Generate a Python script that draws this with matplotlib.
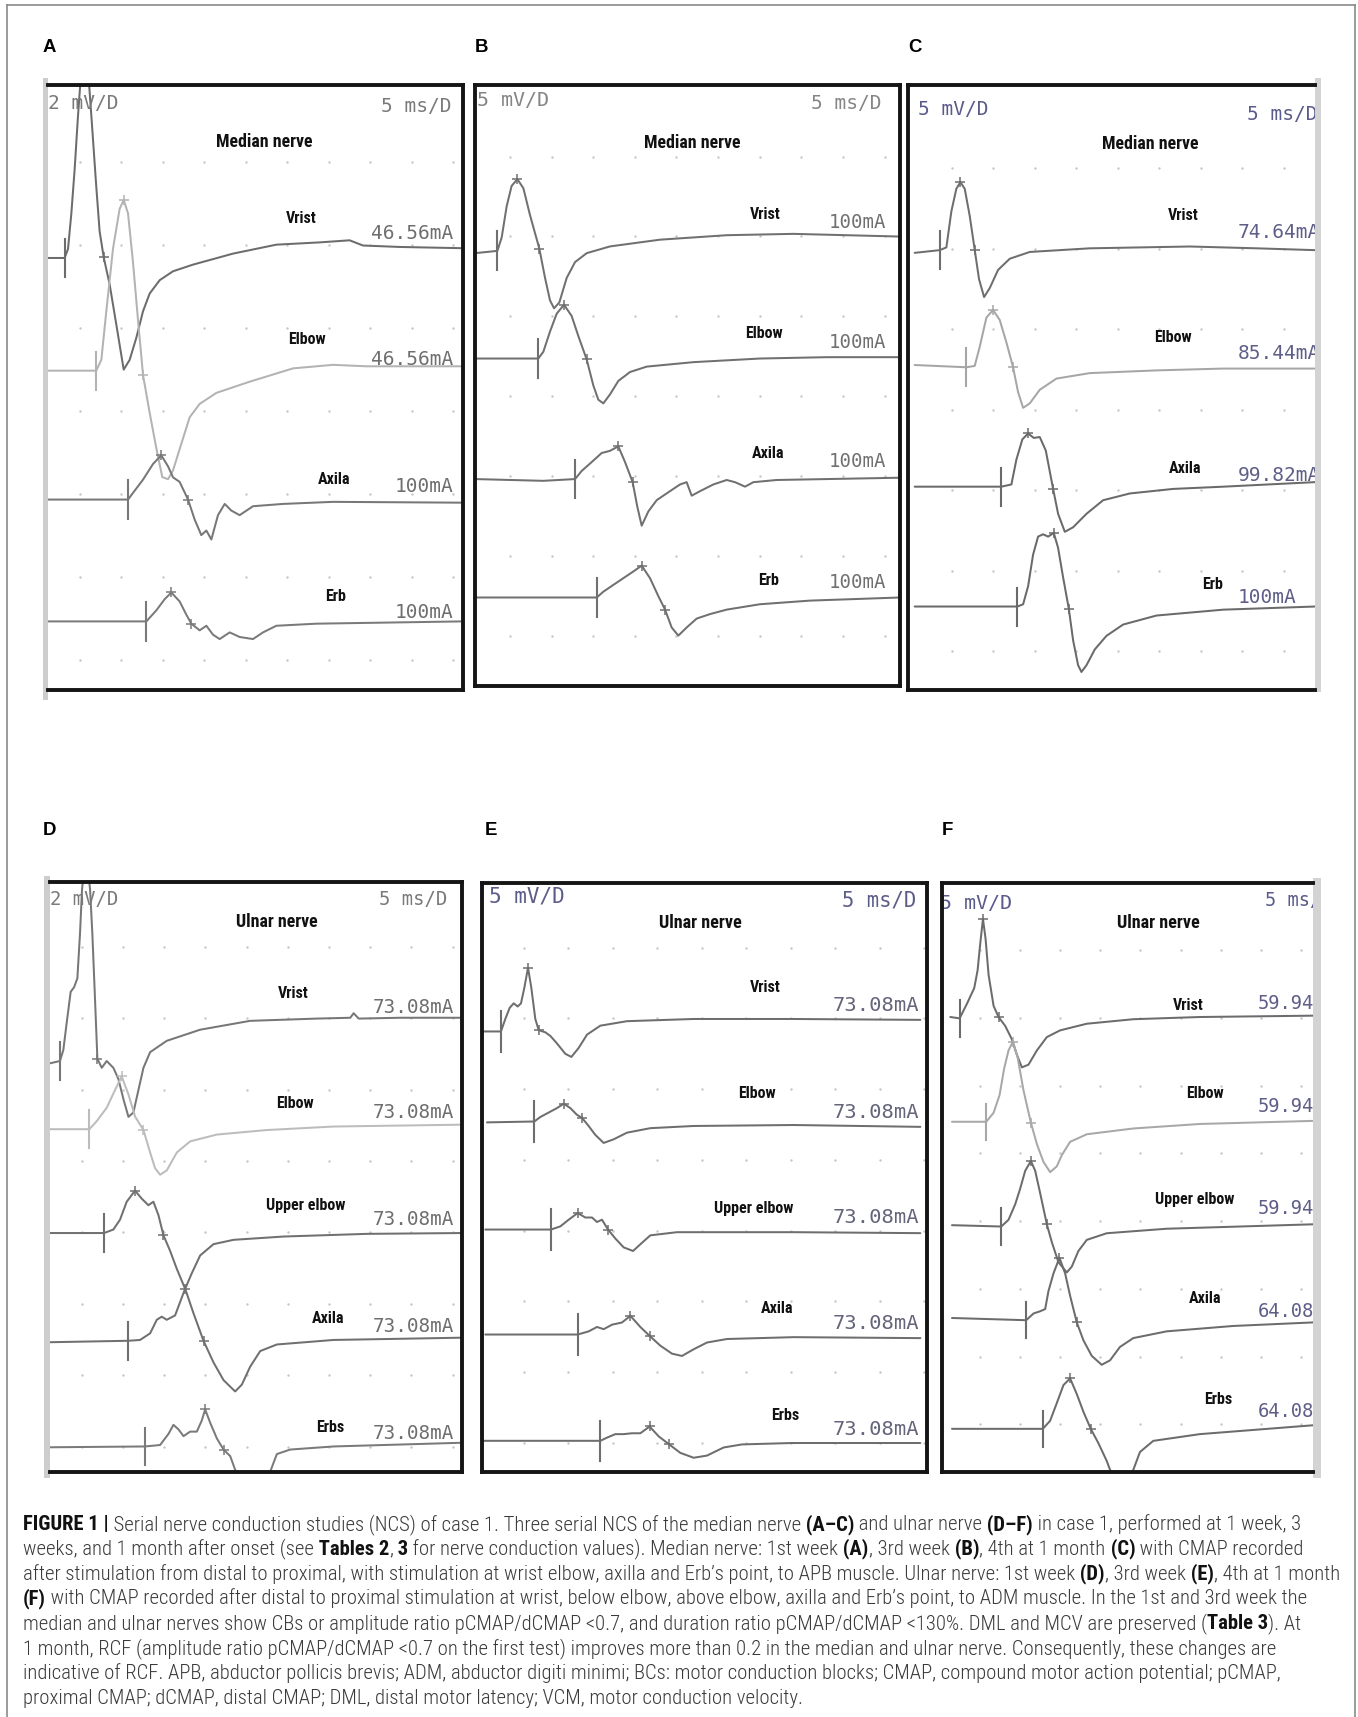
import numpy as np
import matplotlib
matplotlib.use("Agg")
import matplotlib.pyplot as plt
from matplotlib import font_manager
from matplotlib.patches import Rectangle
from matplotlib.lines import Line2D

# ------------------------------------------------------------------ data
# time in ms from the left edge of each screen, amplitude in mV relative to each trace baseline
a_sens = 2  # mV/D
a_sites = ["Vrist", "Elbow", "Axila", "Erb"]
a_currents = ["46.56mA", "46.56mA", "100mA", "100mA"]
a_stim_ms = [2.0, 5.82, 9.64, 11.85]
a_marks = [[4.42, 6.71], [9.12, 11.45], [13.65, 16.87], [14.86, 17.27]]
a_vrist_ms = [0, 2.0, 2.41, 2.81, 3.21, 3.61, 3.90, 4.42, 4.94, 5.30, 5.82, 6.22, 6.71, 7.43, 8.23, 9.12, 9.84,
              10.64, 11.45, 12.25, 13.45, 15.06, 17.47, 22.29, 27.51, 32.73, 36.34, 37.95, 42.37, 50.0]
a_vrist_mv = [0, 0, 0.43, 2.13, 4.26, 6.82, 8.42, 10.23, 8.42, 6.40, 3.41, 1.28, 0.04, -1.28, -3.20, -5.37, -4.90,
              -3.84, -2.56, -1.71, -1.07, -0.64, -0.32, 0.21, 0.64, 0.75, 0.85, 0.60, 0.53, 0.47]
a_elbow_ms = [0, 5.82, 6.43, 7.03, 7.83, 8.63, 9.12, 9.64, 10.24, 10.84, 11.45, 12.25, 13.05, 13.77, 14.46, 15.06,
              16.06, 17.07, 18.27, 20.28, 24.30, 29.52, 34.34, 38.35, 50.0]
a_elbow_mv = [0, 0, 0.53, 2.88, 5.86, 7.78, 8.21, 7.57, 5.22, 2.45, -0.21, -2.03, -3.73, -5.12, -5.22, -4.80,
              -3.52, -2.24, -1.60, -1.07, -0.53, 0.11, 0.28, 0.21, 0.21]
a_axila_ms = [0, 9.64, 10.24, 11.45, 12.65, 13.65, 14.46, 15.06, 15.86, 16.87, 17.67, 18.47, 19.08, 19.68, 20.48,
              21.29, 22.09, 23.09, 24.70, 28.31, 34.34, 50.0]
a_axila_mv = [0, 0, 0.32, 0.96, 1.71, 2.13, 1.60, 1.07, 0.85, 0, -0.96, -1.71, -1.49, -1.92, -0.75,
              -0.21, -0.53, -0.75, -0.32, -0.21, -0.11, -0.15]
a_erb_ms = [0, 11.85, 13.05, 14.06, 14.86, 15.86, 16.67, 17.27, 18.27, 19.08, 19.88, 20.68, 21.89, 23.09, 24.70,
            25.90, 27.51, 32.33, 50.0]
a_erb_mv = [0, 0, 0.53, 1.07, 1.39, 0.96, 0.32, -0.11, -0.43, -0.21, -0.64, -0.85, -0.53, -0.75, -0.85,
            -0.53, -0.21, -0.11, 0]

b_sens = 5
b_sites = ["Vrist", "Elbow", "Axila", "Erb"]
b_currents = ["100mA", "100mA", "100mA", "100mA"]
b_stim_ms = [2.63, 7.45, 11.77, 14.32]
b_marks = [[4.98, 7.57], [10.47, 13.14], [16.86, 18.55], [19.61, 22.36]]
b_vrist_ms = [0, 2.63, 3.14, 3.73, 4.31, 4.98, 5.69, 6.47, 7.57, 8.24, 8.82, 9.30, 9.92, 10.79, 11.77, 13.14,
              15.88, 21.77, 29.61, 37.45, 50.0]
b_vrist_mv = [0, 0.27, 1.86, 5.59, 7.98, 8.78, 7.71, 4.52, 0.53, -2.93, -5.59, -6.54, -5.85, -2.93, -1.06, 0,
              0.80, 1.60, 2.13, 2.29, 1.97]
b_elbow_ms = [0, 7.45, 8.04, 8.82, 9.61, 10.47, 11.37, 12.16, 13.14, 13.92, 14.51, 15.10, 15.88, 16.86, 18.24,
              20.20, 25.69, 33.53, 41.38, 50.0]
b_elbow_mv = [0, 0, 0.80, 3.19, 5.32, 6.38, 5.05, 2.66, -0.11, -3.19, -4.89, -5.32, -4.26, -2.66, -1.60,
              -0.96, -0.43, 0, 0.16, 0.16]
b_axila_ms = [0, 8.04, 11.77, 12.55, 13.73, 14.90, 15.88, 16.86, 17.65, 18.55, 19.10, 19.61, 20.40, 21.38, 22.55,
              24.12, 24.90, 25.49, 26.47, 28.04, 29.61, 30.59, 31.77, 32.75, 35.49, 50.0]
b_axila_mv = [0, -0.21, 0, 0.96, 2.02, 3.09, 3.35, 3.88, 2.02, -0.37, -3.30, -5.53, -3.83, -2.50, -1.70,
              -0.64, -0.37, -1.97, -1.44, -0.64, -0.11, -0.37, -0.90, -0.37, -0.11, 0.16]
b_erb_ms = [0, 14.32, 15.10, 16.27, 17.45, 18.63, 19.61, 20.59, 21.57, 22.36, 23.14, 23.92, 24.90, 26.08, 27.65,
            29.61, 33.53, 39.41, 50.0]
b_erb_mv = [0, 0, 0.69, 1.49, 2.29, 3.09, 3.78, 2.29, 0.16, -1.44, -3.56, -4.52, -3.56, -2.50, -1.97,
            -1.44, -0.80, -0.37, 0]

c_sens = 5
c_sites = ["Vrist", "Elbow", "Axila", "Erb"]
c_currents = ["74.64mA", "85.44mA", "99.82mA", "100mA"]
c_stim_ms = [3.82, 7.03, 11.24, 13.17]
c_marks = [[6.31, 8.03], [10.24, 12.65], [14.46, 17.47], [17.55, 19.36]]
c_vrist_ms = [0.8, 3.82, 4.62, 5.22, 5.82, 6.31, 6.83, 7.43, 8.03, 8.55, 9.16, 9.84, 10.84, 12.25, 14.66, 21.89,
              33.94, 41.97, 49.0]
c_vrist_mv = [-0.11, 0.22, 0.55, 4.91, 7.64, 8.46, 7.64, 4.37, 0.27, -3.28, -5.46, -4.37, -2.18, -0.82, 0, 0.44,
              0.66, 0.44, 0.22]
c_elbow_ms = [0.8, 7.03, 8.03, 8.63, 9.44, 10.24, 11.04, 11.85, 12.65, 13.25, 13.86, 14.66, 15.86, 17.87, 21.89,
              29.92, 37.95, 49.0]
c_elbow_mv = [0.27, 0, 0.16, 2.46, 6.01, 6.93, 5.73, 3.00, 0, -3.00, -4.91, -4.37, -2.73, -1.37, -0.71,
              -0.38, -0.16, -0.16]
c_axila_ms = [0.8, 11.24, 12.45, 13.05, 13.77, 14.46, 15.14, 15.86, 16.59, 17.47, 18.07, 18.88, 19.88, 21.49,
              23.49, 26.71, 31.93, 37.95, 49.0]
c_axila_mv = [0, 0, 0.27, 3.28, 5.73, 6.44, 5.90, 6.01, 4.37, -0.27, -3.28, -5.46, -4.91, -3.28,
              -1.64, -0.82, -0.27, 0, 0.55]
c_erb_ms = [0.8, 13.17, 13.86, 14.46, 15.06, 15.66, 16.26, 16.87, 17.55, 18.07, 18.67, 19.36, 19.88, 20.48, 20.88,
            21.49, 22.49, 23.89, 25.90, 29.92, 37.95, 49.0]
c_erb_mv = [0, 0, 0.27, 2.46, 6.28, 8.46, 8.74, 8.46, 8.90, 7.10, 3.55, -0.27, -4.10, -7.10, -7.92,
            -7.10, -5.19, -3.55, -2.18, -1.09, -0.38, 0]

d_sens = 2
d_sites = ["Vrist", "Elbow", "Upper elbow", "Axila", "Erbs"]
d_currents = ["73.08mA"] * 5
d_stim_ms = [1.21, 4.78, 6.56, 9.52, 11.54]
d_marks = [[4.37, 5.75], [8.70, 11.34], [10.32, 13.77], [16.40, 18.63], [18.83, 21.06]]
d_vrist_ms = [0, 1.21, 1.62, 2.02, 2.51, 2.92, 3.32, 3.64, 3.89, 4.37, 4.86, 5.14, 5.47, 5.75, 6.28, 6.88, 7.69,
              8.30, 8.91, 9.52, 10.12, 10.73, 11.34, 12.15, 14.17, 18.22, 24.29, 32.39, 36.44, 36.85, 37.46,
              42.51, 50.0]
d_vrist_mv = [0, 0.11, 0.65, 1.95, 3.47, 3.69, 4.12, 6.29, 8.46, 10.2, 8.46, 6.29, 3.04, 0.22, -0.22, 0.11, -0.22,
              -0.76, -1.74, -2.60, -2.39, -1.30, -0.22, 0.54, 1.09, 1.63, 2.06, 2.17, 2.21, 2.43, 2.17,
              2.21, 2.21]
d_elbow_ms = [0, 4.78, 5.67, 6.88, 7.90, 8.70, 9.52, 10.33, 11.34, 12.15, 12.75, 13.36, 14.17, 15.39, 17.01,
              20.25, 26.32, 34.42, 50.0]
d_elbow_mv = [0, 0, 0.39, 1.04, 1.91, 2.56, 1.69, 0.61, -0.04, -1.13, -1.89, -2.21, -2.00, -1.13, -0.59,
              -0.26, -0.04, 0.13, 0.22]
d_upper_ms = [0, 6.56, 7.69, 8.50, 9.31, 10.32, 11.13, 11.94, 12.55, 13.16, 13.77, 14.58, 15.39, 16.40, 17.21,
              18.22, 19.84, 22.27, 28.34, 38.47, 50.0]
d_upper_mv = [0, 0, 0.17, 0.65, 1.52, 2.06, 1.67, 1.35, 1.52, 0.87, -0.11, -0.87, -1.74, -2.71, -1.95,
              -1.09, -0.54, -0.33, -0.17, -0.04, 0]
d_axila_ms = [0, 9.52, 10.93, 12.15, 12.96, 13.56, 14.17, 15.18, 15.79, 16.40, 17.41, 18.63, 19.84, 21.06, 22.47,
              23.28, 24.29, 25.51, 27.53, 34.42, 50.0]
d_axila_mv = [0, 0.07, 0.11, 0.43, 1.09, 1.24, 1.09, 1.30, 1.95, 2.60, 1.41, 0.07, -0.98, -1.84, -2.39,
              -2.06, -1.19, -0.43, -0.11, 0.11, 0.22]
d_erbs_ms = [0, 11.54, 13.36, 14.38, 14.98, 15.59, 16.20, 17.01, 17.82, 18.42, 18.83, 19.44, 20.25, 21.06, 21.87,
             22.47, 23.48, 25.91, 26.72, 27.53, 29.15, 34.42, 50.0]
d_erbs_mv = [0, 0.04, 0.11, 0.65, 1.09, 0.87, 0.54, 0.76, 0.76, 1.30, 1.84, 1.19, 0.43, -0.11, -0.43,
             -1.09, -2.39, -2.39, -1.19, -0.33, -0.11, 0.04, 0.22]

e_sens = 5
e_sites = ["Vrist", "Elbow", "Upper elbow", "Axila", "Erbs"]
e_currents = ["73.08mA"] * 5
e_stim_ms = [2.13, 5.88, 7.75, 10.75, 13.30]
e_marks = [[5.17, 6.37], [9.18, 11.24], [10.75, 14.16], [16.67, 18.83], [18.83, 20.97]]
e_vrist_ms = [0.19, 2.13, 2.62, 3.11, 3.56, 4.01, 4.38, 4.76, 5.17, 5.54, 5.99, 6.37, 7.12, 7.68, 8.43, 9.36,
              10.04, 10.86, 11.80, 13.30, 16.29, 23.78, 35.02, 49.25]
e_vrist_mv = [0, 0, 1.42, 2.69, 3.20, 2.84, 3.20, 4.98, 7.26, 4.98, 1.42, 0.15, -0.10, -0.51, -1.37, -2.54,
              -2.90, -1.88, -0.36, 0.66, 1.17, 1.42, 1.42, 1.32]
e_elbow_ms = [0.56, 5.88, 6.55, 7.49, 8.43, 9.18, 9.92, 10.67, 11.24, 11.98, 12.73, 13.67, 14.79, 16.29, 18.91,
              23.78, 35.02, 49.25]
e_elbow_mv = [0, 0.10, 0.61, 1.12, 1.63, 2.13, 1.63, 0.86, 0.51, -0.41, -1.42, -2.34, -1.93, -1.17, -0.66,
              -0.41, -0.30, -0.51]
e_upper_ms = [0.37, 7.75, 8.80, 9.74, 10.75, 11.61, 12.36, 12.92, 13.48, 14.16, 14.98, 15.92, 16.97, 17.79, 18.91,
              21.91, 35.02, 49.25]
e_upper_mv = [0, 0, 0.36, 1.12, 1.88, 1.37, 1.37, 0.86, 1.12, 0, -1.02, -2.03, -2.44, -1.68, -0.66,
              -0.30, -0.30, -0.41]
e_axila_ms = [0.37, 10.75, 11.99, 12.92, 13.67, 14.61, 15.73, 16.67, 17.79, 18.83, 20.04, 21.35, 22.47, 23.78,
              25.28, 27.53, 35.02, 49.25]
e_axila_mv = [0, 0, 0.36, 0.86, 0.61, 1.12, 1.37, 2.13, 0.86, -0.15, -1.27, -2.18, -2.44, -1.68,
              -0.91, -0.51, -0.30, -0.41]
e_erbs_ms = [0.19, 13.30, 14.04, 14.98, 15.92, 16.85, 17.79, 18.83, 19.85, 20.97, 22.28, 23.78, 25.28, 27.15,
             29.21, 34.83, 49.25]
e_erbs_mv = [0, 0, 0.36, 0.76, 0.76, 0.86, 0.86, 1.63, 0.51, -0.36, -1.37, -1.93, -1.68, -0.76,
             -0.41, -0.25, -0.25]

f_sens = 5
f_sites = ["Vrist", "Elbow", "Upper elbow", "Axila", "Erbs"]
f_currents = ["59.94mA", "59.94mA", "59.94mA", "64.08mA", "64.08mA"]
f_stim_ms = [2.21, 5.54, 7.42, 10.54, 12.63]
f_marks = [[5.13, 7.08], [8.88, 11.13], [11.13, 13.13], [14.71, 16.88], [16.04, 18.63]]
f_vrist_ms = [1.04, 2.21, 3.13, 4.04, 4.46, 4.79, 5.13, 5.46, 5.83, 6.46, 7.08, 7.92, 8.75, 9.38, 10.00, 10.83,
              11.88, 13.13, 14.79, 18.13, 23.96, 32.29, 46.46]
f_vrist_mv = [0, -0.17, 1.69, 3.67, 5.92, 9.31, 12.41, 9.87, 5.36, 1.41, 0, -1.13, -2.82, -4.79, -6.37, -6.03,
              -4.23, -2.54, -1.69, -0.85, -0.28, 0, 0.17]
f_elbow_ms = [1.25, 5.54, 6.46, 7.21, 7.79, 8.33, 8.88, 9.46, 10.21, 11.13, 11.88, 12.71, 13.54, 14.38, 15.00,
              16.04, 18.13, 23.96, 32.29, 46.46]
f_elbow_mv = [0, 0, 1.13, 3.38, 6.77, 9.02, 10.15, 8.18, 3.95, -0.11, -2.82, -5.08, -6.37, -5.64, -4.23,
              -2.54, -1.58, -0.85, -0.28, 0.11]
f_upper_ms = [1.25, 7.42, 8.33, 9.17, 9.79, 10.42, 11.13, 11.67, 12.29, 13.13, 13.75, 14.58, 15.63, 16.25, 17.08,
              18.13, 20.63, 28.13, 46.46]
f_upper_mv = [0.17, 0, 0.85, 2.82, 4.79, 7.05, 8.29, 7.05, 4.23, 0.28, -1.97, -4.51, -5.81, -5.08, -3.10,
              -1.69, -0.85, -0.28, 0.28]
f_axila_ms = [1.25, 10.54, 11.46, 12.29, 12.92, 13.33, 13.96, 14.71, 15.42, 16.04, 16.88, 17.71, 18.75, 20.00,
              21.04, 22.29, 23.96, 28.13, 36.46, 46.46]
f_axila_mv = [0.28, 0, 0.85, 1.13, 1.41, 3.67, 5.92, 7.90, 5.92, 3.10, -0.28, -2.54, -4.51, -5.64,
              -5.08, -3.38, -2.26, -1.41, -0.73, -0.28]
f_erbs_ms = [1.25, 12.63, 13.54, 14.38, 15.21, 16.04, 16.88, 17.71, 18.63, 19.58, 20.63, 21.67, 22.50, 23.54,
             24.79, 26.46, 32.29, 46.46]
f_erbs_mv = [0.11, 0.11, 1.13, 3.38, 5.64, 6.49, 4.51, 2.26, 0.11, -1.69, -3.95, -6.77, -7.62, -6.21,
             -2.82, -1.41, -0.56, 0.56]

median_title = "Median nerve"
ulnar_title = "Ulnar nerve"
panel_letters = ["A", "B", "C", "D", "E", "F"]

caption_lines = [
    [("FIGURE 1 |", True), (" Serial nerve conduction studies (NCS) of case 1. Three serial NCS of the median nerve", False),
     (" (A\u2013C)", True), (" and ulnar nerve", False), (" (D\u2013F)", True), (" in case 1, performed at 1 week, 3", False)],
    [("weeks, and 1 month after onset (see", False), (" Tables 2", True), (",", False), (" 3", True),
     (" for nerve conduction values). Median nerve: 1st week", False), (" (A)", True), (", 3rd week", False),
     (" (B)", True), (", 4th at 1 month", False), (" (C)", True), (" with CMAP recorded", False)],
    [("after stimulation from distal to proximal, with stimulation at wrist elbow, axilla and Erb\u2019s point, to APB muscle. Ulnar nerve: 1st week", False),
     (" (D)", True), (", 3rd week", False), (" (E)", True), (", 4th at 1 month", False)],
    [("(F)", True), (" with CMAP recorded after distal to proximal stimulation at wrist, below elbow, above elbow, axilla and Erb\u2019s point, to ADM muscle. In the 1st and 3rd week the", False)],
    [("median and ulnar nerves show CBs or amplitude ratio pCMAP/dCMAP <0.7, and duration ratio pCMAP/dCMAP <130%. DML and MCV are preserved (", False),
     ("Table 3", True), ("). At", False)],
    [("1 month, RCF (amplitude ratio pCMAP/dCMAP <0.7 on the first test) improves more than 0.2 in the median and ulnar nerve. Consequently, these changes are", False)],
    [("indicative of RCF. APB, abductor pollicis brevis; ADM, abductor digiti minimi; BCs: motor conduction blocks; CMAP, compound motor action potential; pCMAP,", False)],
    [("proximal CMAP; dCMAP, distal CMAP; DML, distal motor latency; VCM, motor conduction velocity.", False)],
]

# ------------------------------------------------------------------ fonts
names = {f.name for f in font_manager.fontManager.ttflist}
def pick(*cands):
    for c in cands:
        if c in names:
            return c
    return "DejaVu Sans"
NARROW = pick("Liberation Sans Narrow", "Roboto Condensed", "Liberation Sans")
CAPF = pick("Liberation Sans Narrow", "Roboto Condensed", "Roboto", "Liberation Sans")
SANS = pick("Liberation Sans", "DejaVu Sans")
MONO = pick("DejaVu Sans Mono", "Liberation Mono")

W, H, DPI = 1358, 1717, 100
fig = plt.figure(figsize=(W / DPI, H / DPI), dpi=DPI)
fig.patch.set_facecolor("white")
renderer = fig.canvas.get_renderer()


def fit(t, width_px):
    w = t.get_window_extent(renderer).width
    if w > 0:
        t.set_fontsize(t.get_fontsize() * width_px / w)
    return t.get_fontsize()


def fline(x0, y0, x1, y1, color="#8a8a8a", lw=1.2):
    fig.add_artist(Line2D([x0 / W, x1 / W], [1 - y0 / H, 1 - y1 / H], transform=fig.transFigure,
                          color=color, lw=lw))


def frect(x0, y0, x1, y1, color):
    fig.add_artist(Rectangle((x0 / W, 1 - y1 / H), (x1 - x0) / W, (y1 - y0) / H, transform=fig.transFigure,
                             facecolor=color, edgecolor="none", zorder=0))


# outer border of the figure
fline(7, 5, 1355, 5)
fline(7, 5, 7, H)
fline(1355, 5, 1355, H)

# screenshot edge strips
frect(43, 78, 48, 700, "#cdcdcd")
frect(44, 876, 50, 1478, "#cdcdcd")
frect(1315, 78, 1321, 692, "#d3d3d3")
frect(1313, 878, 1321, 1478, "#d3d3d3")

panels = [
    dict(letter=(43, 48), box=(48, 85, 463, 690), xmax=50.0, ymax=14.55, sens=a_sens, title=median_title,
         scale=("2 mV/D", "5 ms/D"),
         ms=[a_vrist_ms, a_elbow_ms, a_axila_ms, a_erb_ms], mv=[a_vrist_mv, a_elbow_mv, a_axila_mv, a_erb_mv],
         stim=a_stim_ms, marks=a_marks, sites=a_sites, cur=a_currents,
         base=[10.39, 7.68, 4.58, 1.65],
         colors=["#6c6c6c", "#b3b3b3", "#777777", "#7a7a7a"], hide=["left"],
         dots=(0.076, 0.1, 0.128, 0.137),
         title_pos=(0.522, 0.905, 97), sl=(0.0, 0.97, 70), sr=(0.972, 0.965, 70, "right"),
         site_pos=[(0.61, 0.78), (0.623, 0.579), (0.69, 0.348), (0.693, 0.154)],
         cur_pos=(0.977, [0.755, 0.546, 0.337, 0.128], 82, "right"),
         scol="#7a7a7a", ccol="#6e6e6e"),
    dict(letter=(475, 48), box=(475, 85, 900, 686), xmax=50.0, ymax=14.26, sens=b_sens, title=median_title,
         scale=("5 mV/D", "5 ms/D"),
         ms=[b_vrist_ms, b_elbow_ms, b_axila_ms, b_erb_ms], mv=[b_vrist_mv, b_elbow_mv, b_axila_mv, b_erb_mv],
         stim=b_stim_ms, marks=b_marks, sites=b_sites, cur=b_currents,
         base=[10.27, 7.77, 4.91, 2.10],
         colors=["#707070"] * 4, hide=[],
         dots=(0.082, 0.098, 0.119, 0.133),
         title_pos=(0.51, 0.903, 97), sl=(0.004, 0.974, 72), sr=(0.957, 0.97, 70, "right"),
         site_pos=[(0.682, 0.784), (0.68, 0.586), (0.69, 0.387), (0.69, 0.175)],
         cur_pos=(0.967, [0.772, 0.571, 0.373, 0.172], 57, "right"),
         scol="#858585", ccol="#707070"),
    dict(letter=(908, 48), box=(908, 85, 1315, 690), xmax=49.0, ymax=14.64, sens=c_sens, title=median_title,
         scale=("5 mV/D", "5 ms/D"),
         ms=[c_vrist_ms, c_elbow_ms, c_axila_ms, c_erb_ms], mv=[c_vrist_mv, c_elbow_mv, c_axila_mv, c_erb_mv],
         stim=c_stim_ms, marks=c_marks, sites=c_sites, cur=c_currents,
         base=[10.60, 7.81, 4.92, 2.02],
         colors=["#6e6e6e", "#a6a6a6", "#6a6a6a", "#6a6a6a"], hide=["right"],
         dots=(0.107, 0.102, 0.138, 0.133),
         title_pos=(0.594, 0.903, 97), sl=(0.025, 0.959, 70), sr=(0.832, 0.952, 70, "left"),
         site_pos=[(0.676, 0.784), (0.65, 0.582), (0.68, 0.366), (0.748, 0.175)],
         cur_pos=(0.809, [0.757, 0.556, 0.354, 0.153], 82, "left"),
         scol="#5a5a8c", ccol="#5e5e88"),
    dict(letter=(43, 830), box=(50, 882, 462, 1472), xmax=50.0, ymax=14.32, sens=d_sens, title=ulnar_title,
         scale=("2 mV/D", "5 ms/D"),
         ms=[d_vrist_ms, d_elbow_ms, d_upper_ms, d_axila_ms, d_erbs_ms],
         mv=[d_vrist_mv, d_elbow_mv, d_upper_mv, d_axila_mv, d_erbs_mv],
         stim=d_stim_ms, marks=d_marks, sites=d_sites, cur=d_currents,
         base=[9.92, 8.32, 5.80, 3.15, 0.60],
         colors=["#777777", "#bcbcbc", "#707070", "#707070", "#7a7a7a"], hide=["left"],
         dots=(0.077, 0.1, 0.11, 0.121),
         title_pos=(0.55, 0.932, 82), sl=(0.0, 0.97, 68), sr=(0.964, 0.97, 68, "right"),
         site_pos=[(0.59, 0.811), (0.595, 0.625), (0.62, 0.451), (0.676, 0.261), (0.68, 0.076)],
         cur_pos=(0.98, [0.788, 0.61, 0.428, 0.246, 0.066], 81, "right"),
         scol="#7a7a7a", ccol="#6e6e6e"),
    dict(letter=(485, 830), box=(482, 883, 927, 1472), xmax=50.0, ymax=13.41, sens=e_sens, title=ulnar_title,
         scale=("5 mV/D", "5 ms/D"),
         ms=[e_vrist_ms, e_elbow_ms, e_upper_ms, e_axila_ms, e_erbs_ms],
         mv=[e_vrist_mv, e_elbow_mv, e_upper_mv, e_axila_mv, e_erbs_mv],
         stim=e_stim_ms, marks=e_marks, sites=e_sites, cur=e_currents,
         base=[10.03, 7.96, 5.52, 3.13, 0.71],
         colors=["#6e6e6e"] * 5, hide=[],
         dots=(0.094, 0.1, 0.11, 0.12),
         title_pos=(0.49, 0.932, 83), sl=(0.015, 0.977, 75), sr=(0.976, 0.97, 74, "right"),
         site_pos=[(0.637, 0.822), (0.618, 0.642), (0.61, 0.447), (0.663, 0.277), (0.682, 0.096)],
         cur_pos=(0.983, [0.792, 0.611, 0.432, 0.252, 0.072], 86, "right"),
         scol="#5c5c88", ccol="#64647a"),
    dict(letter=(942, 830), box=(942, 883, 1313, 1472), xmax=46.46, ymax=14.9, sens=f_sens, title=ulnar_title,
         scale=("5 mV/D", "5 ms/D"),
         ms=[f_vrist_ms, f_elbow_ms, f_upper_ms, f_axila_ms, f_erbs_ms],
         mv=[f_vrist_mv, f_elbow_mv, f_upper_mv, f_axila_mv, f_erbs_mv],
         stim=f_stim_ms, marks=f_marks, sites=f_sites, cur=f_currents,
         base=[11.51, 8.86, 6.21, 3.84, 1.07],
         colors=["#6c6c6c", "#a8a8a8", "#6c6c6c", "#6c6c6c", "#6c6c6c"], hide=["right"],
         dots=(0.103, 0.108, 0.114, 0.115),
         title_pos=(0.583, 0.932, 83), sl=(-0.005, 0.966, 72), sr=(0.87, 0.97, 67, "left"),
         site_pos=[(0.664, 0.792), (0.708, 0.642), (0.682, 0.462), (0.708, 0.295), (0.744, 0.123)],
         cur_pos=(0.852, [0.795, 0.621, 0.447, 0.273, 0.102], 79, "left"),
         scol="#5a5a8c", ccol="#5e5e88"),
]

for letter, p in zip(panel_letters, panels):
    lx, ly = p["letter"]
    fig.text(lx / W, 1 - ly / H, letter, family=SANS, fontweight="bold", fontsize=13.4,
             ha="left", va="center", color="black")

    x0, y0, x1, y1 = p["box"]
    ax = fig.add_axes([x0 / W, 1 - y1 / H, (x1 - x0) / W, (y1 - y0) / H])
    ax.set_facecolor("white")
    ax.set_xticks([])
    ax.set_yticks([])
    for s in ax.spines.values():
        s.set_linewidth(2.8)
        s.set_color("#151515")
        s.set_zorder(6)
    for s in p["hide"]:
        ax.spines[s].set_visible(False)

    # screen grid dots
    c0, cs, r0, rs = p["dots"]
    cols = np.arange(c0, 0.999, cs)
    rows = 1 - np.arange(r0, 0.999, rs)
    gx, gy = np.meshgrid(cols, rows)
    ax.scatter(gx.ravel(), gy.ravel(), s=3.0, c="#c6c6c6", lw=0, transform=ax.transAxes, zorder=1)

    sens = p["sens"]
    for t, v, b, st, mk, col in zip(p["ms"], p["mv"], p["base"], p["stim"], p["marks"], p["colors"]):
        t = np.asarray(t, float)
        v = np.asarray(v, float)
        ax.plot(t, b + v / sens, color=col, lw=1.45, zorder=3, solid_joinstyle="round", solid_capstyle="round")
        ys = b + np.interp(st, t, v) / sens
        ax.plot([st, st], [ys - 0.46, ys + 0.46], color=col, lw=1.5, zorder=3)
        for m in mk:
            ax.plot([m], [b + np.interp(m, t, v) / sens], marker="+", ms=6.5, mew=1.1, color=col, zorder=4)

    ax.set_xlim(0, p["xmax"])
    ax.set_ylim(0, p["ymax"])

    # title
    tx, ty, tw = p["title_pos"]
    tt = ax.text(tx, ty, p["title"], transform=ax.transAxes, ha="center", va="center", family=NARROW,
                 fontweight="bold", fontsize=12, color="#111111", zorder=5)
    fit(tt, tw)

    # scale labels
    sx, sy, sw = p["sl"]
    t1 = ax.text(sx, sy, p["scale"][0], transform=ax.transAxes, ha="left", va="center", family=MONO,
                 fontsize=12, color=p["scol"], clip_on=True, zorder=5)
    fit(t1, sw)
    sx, sy, sw, sha = p["sr"]
    t2 = ax.text(sx, sy, p["scale"][1], transform=ax.transAxes, ha=sha, va="center", family=MONO,
                 fontsize=12, color=p["scol"], clip_on=True, zorder=5)
    fit(t2, sw)

    # site labels
    site_texts = []
    for (sx, sy), name in zip(p["site_pos"], p["sites"]):
        site_texts.append(ax.text(sx, sy, name, transform=ax.transAxes, ha="center", va="center", family=NARROW,
                                  fontweight="bold", fontsize=10, color="#111111", zorder=5))
    fs = fit(site_texts[1], 38)
    for st_ in site_texts:
        st_.set_fontsize(fs)

    # stimulation current labels
    cx, cys, cw, cha = p["cur_pos"]
    cur_texts = []
    for cy, lab in zip(cys, p["cur"]):
        cur_texts.append(ax.text(cx, cy, lab, transform=ax.transAxes, ha=cha, va="center", family=MONO,
                                 fontsize=12, color=p["ccol"], clip_on=True, zorder=5))
    fs = fit(cur_texts[0], cw)
    for ct in cur_texts:
        ct.set_fontsize(fs)

# ------------------------------------------------------------------ caption
def rich_line(segs, x0, yb, size):
    x = x0
    arts = []
    for s, b in segs:
        t = fig.text(x / W, 1 - yb / H, s, fontsize=size, family=CAPF,
                     fontweight="bold" if b else "light",
                     color="#111111" if b else "#3a3a3a", ha="left", va="baseline")
        bb = t.get_window_extent(renderer)
        x = bb.x1
        arts.append(t)
    return x, arts


cap_x0 = 23
xe, tmp = rich_line(caption_lines[2], cap_x0, 1600, 10)
cap_size = 10 * (1337 - cap_x0) / (xe - cap_x0)
for t in tmp:
    t.remove()

for i, segs in enumerate(caption_lines):
    rich_line(segs, cap_x0, 1530 + 24.8 * i, cap_size)

fig.savefig("out.png", dpi=DPI, facecolor="white")
